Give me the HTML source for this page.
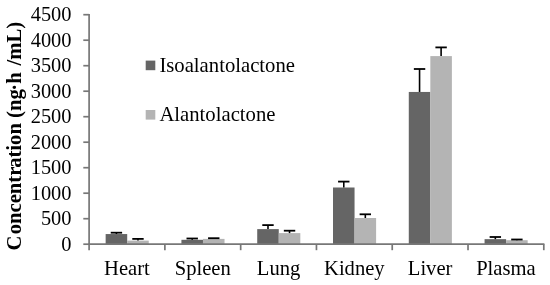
<!DOCTYPE html>
<html><head><meta charset="utf-8"><title>chart</title>
<style>html,body{margin:0;padding:0;background:#fff;}body{width:550px;height:285px;position:relative;overflow:hidden;font-family:"Liberation Serif",serif;}</style>
</head><body>
<svg width="550" height="285" viewBox="0 0 550 285" style="position:absolute;left:0;top:0;will-change:transform">
<rect x="105.65" y="234.05" width="21.55" height="10.15" fill="#656565"/>
<rect x="127.20" y="240.60" width="21.55" height="3.60" fill="#b4b4b4"/>
<line x1="116.42" y1="234.05" x2="116.42" y2="232.70" stroke="#000" stroke-width="1.6"/>
<line x1="110.72" y1="232.70" x2="122.12" y2="232.70" stroke="#000" stroke-width="1.8"/>
<line x1="137.97" y1="240.60" x2="137.97" y2="238.90" stroke="#000" stroke-width="1.6"/>
<line x1="132.28" y1="238.90" x2="143.67" y2="238.90" stroke="#000" stroke-width="1.8"/>
<rect x="181.43" y="239.80" width="21.55" height="4.40" fill="#656565"/>
<rect x="202.98" y="238.90" width="21.55" height="5.30" fill="#b4b4b4"/>
<line x1="192.21" y1="239.80" x2="192.21" y2="238.50" stroke="#000" stroke-width="1.6"/>
<line x1="186.51" y1="238.50" x2="197.91" y2="238.50" stroke="#000" stroke-width="1.8"/>
<line x1="213.76" y1="238.90" x2="213.76" y2="238.20" stroke="#000" stroke-width="1.6"/>
<line x1="208.06" y1="238.20" x2="219.46" y2="238.20" stroke="#000" stroke-width="1.8"/>
<rect x="257.22" y="229.10" width="21.55" height="15.10" fill="#656565"/>
<rect x="278.77" y="233.10" width="21.55" height="11.10" fill="#b4b4b4"/>
<line x1="267.99" y1="229.10" x2="267.99" y2="225.10" stroke="#000" stroke-width="1.6"/>
<line x1="262.29" y1="225.10" x2="273.69" y2="225.10" stroke="#000" stroke-width="1.8"/>
<line x1="289.54" y1="233.10" x2="289.54" y2="230.70" stroke="#000" stroke-width="1.6"/>
<line x1="283.84" y1="230.70" x2="295.24" y2="230.70" stroke="#000" stroke-width="1.8"/>
<rect x="333.00" y="187.50" width="21.55" height="56.70" fill="#656565"/>
<rect x="354.55" y="218.00" width="21.55" height="26.20" fill="#b4b4b4"/>
<line x1="343.77" y1="187.50" x2="343.77" y2="181.60" stroke="#000" stroke-width="1.6"/>
<line x1="338.07" y1="181.60" x2="349.47" y2="181.60" stroke="#000" stroke-width="1.8"/>
<line x1="365.32" y1="218.00" x2="365.32" y2="214.30" stroke="#000" stroke-width="1.6"/>
<line x1="359.62" y1="214.30" x2="371.02" y2="214.30" stroke="#000" stroke-width="1.8"/>
<rect x="408.78" y="91.95" width="21.55" height="152.25" fill="#656565"/>
<rect x="430.33" y="56.10" width="21.55" height="188.10" fill="#b4b4b4"/>
<line x1="419.56" y1="91.95" x2="419.56" y2="69.00" stroke="#000" stroke-width="1.6"/>
<line x1="413.86" y1="69.00" x2="425.26" y2="69.00" stroke="#000" stroke-width="1.8"/>
<line x1="441.11" y1="56.10" x2="441.11" y2="47.40" stroke="#000" stroke-width="1.6"/>
<line x1="435.41" y1="47.40" x2="446.81" y2="47.40" stroke="#000" stroke-width="1.8"/>
<rect x="484.57" y="239.15" width="21.55" height="5.05" fill="#656565"/>
<rect x="506.12" y="240.20" width="21.55" height="4.00" fill="#b4b4b4"/>
<line x1="495.34" y1="239.15" x2="495.34" y2="237.00" stroke="#000" stroke-width="1.6"/>
<line x1="489.64" y1="237.00" x2="501.04" y2="237.00" stroke="#000" stroke-width="1.8"/>
<line x1="516.89" y1="240.20" x2="516.89" y2="239.50" stroke="#000" stroke-width="1.6"/>
<line x1="511.19" y1="239.50" x2="522.59" y2="239.50" stroke="#000" stroke-width="1.8"/>
<line x1="89.1" y1="14.1" x2="89.1" y2="244.79999999999998" stroke="#777777" stroke-width="1.7"/>
<line x1="88.5" y1="244.2" x2="544.4" y2="244.2" stroke="#777777" stroke-width="1.7"/>
<line x1="83.3" y1="244.20" x2="89.1" y2="244.20" stroke="#777777" stroke-width="1.7"/>
<line x1="83.3" y1="218.70" x2="89.1" y2="218.70" stroke="#777777" stroke-width="1.7"/>
<line x1="83.3" y1="193.20" x2="89.1" y2="193.20" stroke="#777777" stroke-width="1.7"/>
<line x1="83.3" y1="167.70" x2="89.1" y2="167.70" stroke="#777777" stroke-width="1.7"/>
<line x1="83.3" y1="142.20" x2="89.1" y2="142.20" stroke="#777777" stroke-width="1.7"/>
<line x1="83.3" y1="116.70" x2="89.1" y2="116.70" stroke="#777777" stroke-width="1.7"/>
<line x1="83.3" y1="91.20" x2="89.1" y2="91.20" stroke="#777777" stroke-width="1.7"/>
<line x1="83.3" y1="65.70" x2="89.1" y2="65.70" stroke="#777777" stroke-width="1.7"/>
<line x1="83.3" y1="40.20" x2="89.1" y2="40.20" stroke="#777777" stroke-width="1.7"/>
<line x1="83.3" y1="14.70" x2="89.1" y2="14.70" stroke="#777777" stroke-width="1.7"/>
<line x1="89.10" y1="244.2" x2="89.10" y2="250.2" stroke="#777777" stroke-width="1.7"/>
<line x1="164.88" y1="244.2" x2="164.88" y2="250.2" stroke="#777777" stroke-width="1.7"/>
<line x1="240.67" y1="244.2" x2="240.67" y2="250.2" stroke="#777777" stroke-width="1.7"/>
<line x1="316.45" y1="244.2" x2="316.45" y2="250.2" stroke="#777777" stroke-width="1.7"/>
<line x1="392.23" y1="244.2" x2="392.23" y2="250.2" stroke="#777777" stroke-width="1.7"/>
<line x1="468.02" y1="244.2" x2="468.02" y2="250.2" stroke="#777777" stroke-width="1.7"/>
<line x1="543.80" y1="244.2" x2="543.80" y2="250.2" stroke="#777777" stroke-width="1.7"/>
<rect x="145.7" y="60.6" width="9.6" height="9.6" fill="#656565"/>
<rect x="145.7" y="110.0" width="9.6" height="9.6" fill="#b4b4b4"/>
<text x="71.5" y="250.60" text-anchor="end" font-size="20.4" font-family="Liberation Serif, serif" fill="#000">0</text>
<text x="71.5" y="225.10" text-anchor="end" font-size="20.4" font-family="Liberation Serif, serif" fill="#000">500</text>
<text x="71.5" y="199.60" text-anchor="end" font-size="20.4" font-family="Liberation Serif, serif" fill="#000">1000</text>
<text x="71.5" y="174.10" text-anchor="end" font-size="20.4" font-family="Liberation Serif, serif" fill="#000">1500</text>
<text x="71.5" y="148.60" text-anchor="end" font-size="20.4" font-family="Liberation Serif, serif" fill="#000">2000</text>
<text x="71.5" y="123.10" text-anchor="end" font-size="20.4" font-family="Liberation Serif, serif" fill="#000">2500</text>
<text x="71.5" y="97.60" text-anchor="end" font-size="20.4" font-family="Liberation Serif, serif" fill="#000">3000</text>
<text x="71.5" y="72.10" text-anchor="end" font-size="20.4" font-family="Liberation Serif, serif" fill="#000">3500</text>
<text x="71.5" y="46.60" text-anchor="end" font-size="20.4" font-family="Liberation Serif, serif" fill="#000">4000</text>
<text x="71.5" y="21.10" text-anchor="end" font-size="20.4" font-family="Liberation Serif, serif" fill="#000">4500</text>
<text x="126.99" y="274.9" text-anchor="middle" font-size="20.6" font-family="Liberation Serif, serif" fill="#000">Heart</text>
<text x="202.77" y="274.9" text-anchor="middle" font-size="20.6" font-family="Liberation Serif, serif" fill="#000">Spleen</text>
<text x="278.56" y="274.9" text-anchor="middle" font-size="20.6" font-family="Liberation Serif, serif" fill="#000">Lung</text>
<text x="354.34" y="274.9" text-anchor="middle" font-size="20.6" font-family="Liberation Serif, serif" fill="#000">Kidney</text>
<text x="430.12" y="274.9" text-anchor="middle" font-size="20.6" font-family="Liberation Serif, serif" fill="#000">Liver</text>
<text x="505.91" y="274.9" text-anchor="middle" font-size="20.6" font-family="Liberation Serif, serif" fill="#000">Plasma</text>
<text x="159.4" y="71.6" font-size="20.7" font-family="Liberation Serif, serif" fill="#000">Isoalantolactone</text>
<text x="159.4" y="120.6" font-size="20.7" font-family="Liberation Serif, serif" fill="#000">Alantolactone</text>
<text transform="translate(20.6,250.6) rotate(-90) scale(1,0.97)" font-size="20.7" font-weight="bold" font-family="Liberation Serif, serif" fill="#000">C<tspan dx="1.3">oncentr</tspan><tspan dx="-1.3">ation (ng</tspan><tspan dx="-1.5">·h</tspan><tspan dx="1.5"> /mL)</tspan></text>
</svg>
</body></html>
